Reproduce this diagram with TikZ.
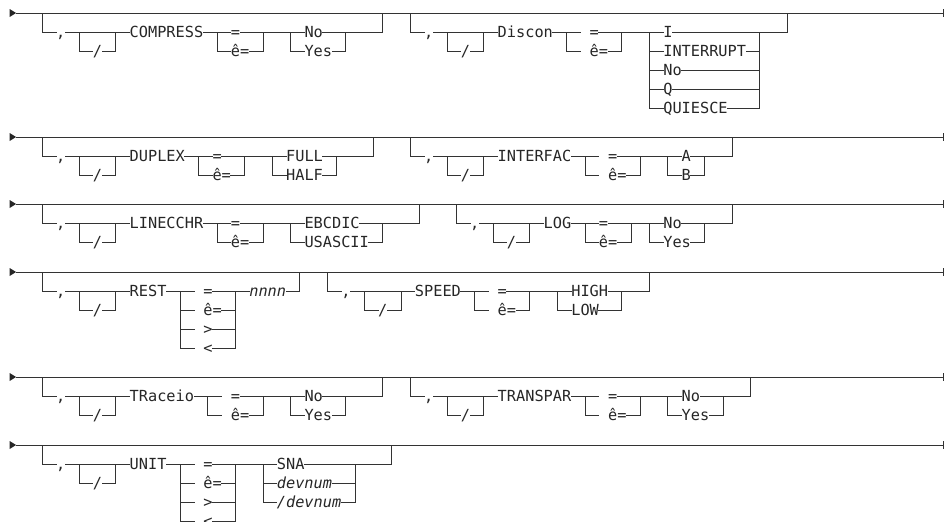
\documentclass[tikz,border=0pt]{standalone}
\usepackage{fontspec}
\newfontfamily\dvm{DejaVu Sans Mono}
\tikzset{
  lbl/.style={font=\dvm\fontsize{15.28}{18}\selectfont, inner sep=0pt, outer sep=0pt,
              text height=12pt, text depth=2pt, text=black!85},
  ln/.style={line width=0.9pt, draw=black!80, line cap=rect}
}
% text node starting at column #2, on row #3
\newcommand\T[4]{\node[lbl,anchor=west] (#1) at ({#2-0.5},#3) {#4};}
% group start: id, L, main y, keyword
\newcommand\GS[4]{%
  \pgfmathsetmacro\ya{#3+19}%
  \pgfmathsetmacro\yb{#3+38}%
  \T{#1c}{#2+2}{\ya}{,}%
  \T{#1s}{#2+6}{\yb}{/}%
  \T{#1}{#2+10}{\ya}{#4}%
  \draw[ln] (#2,#3) -- (#2,\ya) -- (#1c.west);%
  \draw[ln] (#1c.east) -- (#1.west);%
  \draw[ln] ({#2+4},\ya) -- ({#2+4},\yb) -- (#1s.west);%
  \draw[ln] (#1s.east) -- ({#2+8},\yb) -- ({#2+8},\ya);%
}
% operator box: id, a, text col, q, y1, n, list
\newcommand\EQ[7]{%
  \pgfmathsetmacro\yl{#5+19*(#6-1)}%
  \draw[ln] (#2,#5) -- (#2,\yl);%
  \draw[ln] (#4,#5) -- (#4,\yl);%
  \foreach \t [count=\i] in {#7}{%
    \pgfmathsetmacro\yy{#5+19*(\i-1)}%
    \T{#1\i}{#3}{\yy}{\t}%
    \draw[ln] (#2,\yy) -- ({#2+1.5},\yy);%
    \draw[ln] (#1\i.east) -- (#4,\yy);%
  }%
}
% option box: id, b, text col, j, y1, n, list
\newcommand\OP[7]{%
  \pgfmathsetmacro\yl{#5+19*(#6-1)}%
  \draw[ln] (#2,#5) -- (#2,\yl);%
  \draw[ln] (#4,#5) -- (#4,\yl);%
  \foreach \t [count=\i] in {#7}{%
    \pgfmathsetmacro\yy{#5+19*(\i-1)}%
    \T{#1\i}{#3}{\yy}{\t}%
    \draw[ln] (#2,\yy) -- (#1\i.west);%
    \draw[ln] (#1\i.east) -- (#4,\yy);%
  }%
}
% main line with arrow and end tick
\newcommand\MAIN[1]{%
  \fill[black!85] (0.45,{#1-4}) -- (1.15,#1) -- (0.45,{#1+4}) -- cycle;%
  \draw[ln] (1.15,#1) -- (102,#1);%
  \draw[ln] (102,{#1-3.5}) -- (102,{#1+3.5});%
}
\begin{document}
\begin{tikzpicture}[x=9.2pt,y=-1pt]
\useasboundingbox (0pt,0pt) rectangle (945pt,-522pt);
\begin{scope}[xshift=5.5pt]
% ---------------- row 1
\MAIN{13}
\GS{compress}{4}{13}{COMPRESS}
\draw[ln] (compress.east) -- (23,32);
\EQ{ceq}{23}{25}{28}{32}{2}{=,ê=}
\draw[ln] (28,32) -- (31,32);
\OP{cop}{31}{33}{37}{32}{2}{No,Yes}
\draw[ln] (37,32) -- (41,32) -- (41,13);
\GS{discon}{44}{13}{Discon}
\draw[ln] (discon.east) -- (61,32);
\EQ{deq}{61}{64}{67}{32}{2}{=,ê=}
\draw[ln] (67,32) -- (70,32);
\OP{dop}{70}{72}{82}{32}{5}{I,INTERRUPT,No,Q,QUIESCE}
\draw[ln] (82,32) -- (85,32) -- (85,13);
% ---------------- row 2
\MAIN{137}
\GS{duplex}{4}{137}{DUPLEX}
\draw[ln] (duplex.east) -- (21,156);
\EQ{xeq}{21}{23}{26}{156}{2}{=,ê=}
\draw[ln] (26,156) -- (29,156);
\OP{xop}{29}{31}{36}{156}{2}{FULL,HALF}
\draw[ln] (36,156) -- (40,156) -- (40,137);
\GS{interfac}{44}{137}{INTERFAC}
\draw[ln] (interfac.east) -- (63,156);
\EQ{ieq}{63}{66}{69}{156}{2}{=,ê=}
\draw[ln] (69,156) -- (72,156);
\OP{iop}{72}{74}{76}{156}{2}{A,B}
\draw[ln] (76,156) -- (79,156) -- (79,137);
% ---------------- row 3
\MAIN{204}
\GS{lineechr}{4}{204}{LINECCHR}
\draw[ln] (lineechr.east) -- (23,223);
\EQ{leq}{23}{25}{28}{223}{2}{=,ê=}
\draw[ln] (28,223) -- (31,223);
\OP{lop}{31}{33}{41}{223}{2}{EBCDIC,USASCII}
\draw[ln] (41,223) -- (45,223) -- (45,204);
\GS{log}{49}{204}{LOG}
\draw[ln] (log.east) -- (63,223);
\EQ{geq}{63}{65}{68}{223}{2}{=,ê=}
\draw[ln] (68,223) -- (70,223);
\OP{gop}{70}{72}{76}{223}{2}{No,Yes}
\draw[ln] (76,223) -- (79,223) -- (79,204);
% ---------------- row 4
\MAIN{272}
\GS{rest}{4}{272}{REST}
\draw[ln] (rest.east) -- (19,291);
\EQ{req}{19}{22}{25}{291}{4}{=,ê=,>,<}
\T{nnnn}{27}{291}{\itshape nnnn}
\draw[ln] (25,291) -- (nnnn.west);
\draw[ln] (nnnn.east) -- (32,291) -- (32,272);
\GS{speed}{35}{272}{SPEED}
\draw[ln] (speed.east) -- (51,291);
\EQ{seq}{51}{54}{57}{291}{2}{=,ê=}
\draw[ln] (57,291) -- (60,291);
\OP{sop}{60}{62}{67}{291}{2}{HIGH,LOW}
\draw[ln] (67,291) -- (70,291) -- (70,272);
% ---------------- row 5
\MAIN{377}
\GS{traceio}{4}{377}{TRaceio}
\draw[ln] (traceio.east) -- (22,396);
\EQ{teq}{22}{25}{28}{396}{2}{=,ê=}
\draw[ln] (28,396) -- (31,396);
\OP{top}{31}{33}{37}{396}{2}{No,Yes}
\draw[ln] (37,396) -- (41,396) -- (41,377);
\GS{transpar}{44}{377}{TRANSPAR}
\draw[ln] (transpar.east) -- (63,396);
\EQ{peq}{63}{66}{69}{396}{2}{=,ê=}
\draw[ln] (69,396) -- (72,396);
\OP{pop}{72}{74}{78}{396}{2}{No,Yes}
\draw[ln] (78,396) -- (81,396) -- (81,377);
% ---------------- row 6
\MAIN{445}
\GS{unit}{4}{445}{UNIT}
\draw[ln] (unit.east) -- (19,464);
\EQ{ueq}{19}{22}{25}{464}{4}{=,ê=,>,<}
\draw[ln] (25,464) -- (28,464);
\OP{uop}{28}{30}{38}{464}{3}{SNA,{\itshape devnum},{\itshape /devnum}}
\draw[ln] (38,464) -- (42,464) -- (42,445);
\end{scope}
\end{tikzpicture}
\end{document}
